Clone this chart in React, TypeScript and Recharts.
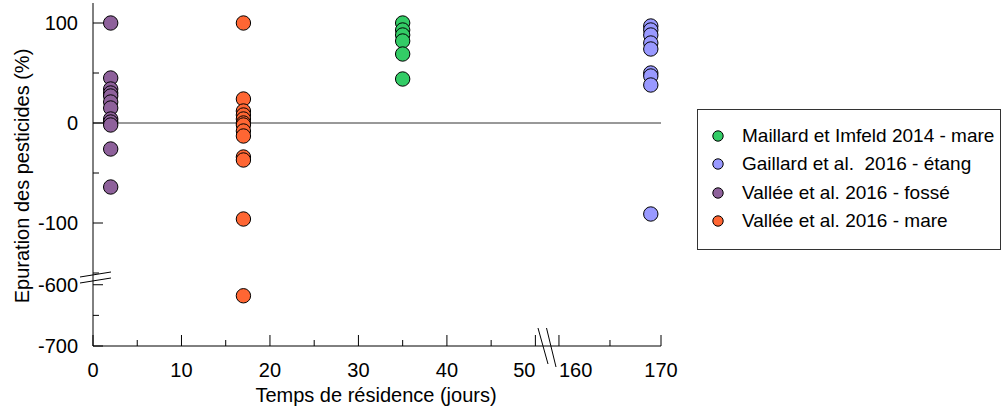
import { Legend, ReferenceLine, Scatter, ScatterChart, XAxis, YAxis } from "recharts";

// series (in legend order)
const seriesNames = [
  "Maillard et Imfeld 2014 - mare",
  "Gaillard et al.  2016 - étang",
  "Vallée et al. 2016 - fossé",
  "Vallée et al. 2016 - mare",
];
const seriesColors = ["#33cc66", "#9999ff", "#8e619b", "#ff6633"];

// temps de résidence (jours) et épuration (%)
const maillardDays = 35;
const maillardValues = [100, 93, 88, 82, 69, 44];
const gaillardDays = 169;
const gaillardValues = [97, 93, 88, 80, 74, 50, 47, 38, -91];
const valleeFosseDays = 2;
const valleeFosseValues = [100, 45, 34, 30, 27, 21, 15, 4, 1, -2, -26, -64];
const valleeMareDays = 17;
const valleeMareValues = [100, 24, 12, 8, 4, 0, -2, -8, -13, -34, -37, -96, -618];

// ticks
const xTicksLeft = [0, 5, 10, 15, 20, 25, 30, 35, 40, 45, 50];
const xTicksRight = [160, 165, 170];
const yTicksUpper = [-150, -100, -50, 0, 50, 100];
const yTicksLower = [-700, -650, -600];

const FONT = "'Liberation Sans', Arial, sans-serif";

const series = [
  { name: seriesNames[0], color: seriesColors[0], points: maillardValues.map((v) => ({ x: maillardDays, y: v })) },
  { name: seriesNames[1], color: seriesColors[1], points: gaillardValues.map((v) => ({ x: gaillardDays, y: v })) },
  { name: seriesNames[2], color: seriesColors[2], points: valleeFosseValues.map((v) => ({ x: valleeFosseDays, y: v })) },
  { name: seriesNames[3], color: seriesColors[3], points: valleeMareValues.map((v) => ({ x: valleeMareDays, y: v })) },
];

// broken axes -> four panels
const panels = [
  { id: "ul", xd: [0, 51.2], yd: [-155, 120], left: 0, top: 3, width: 546, height: 275, yAxis: true, xAxis: false, xTicks: xTicksLeft, yTicks: yTicksUpper, zero: true, legend: false },
  { id: "ur", xd: [158.73, 170], yd: [-155, 120], left: 546, top: 3, width: 115, height: 275, yAxis: false, xAxis: false, xTicks: xTicksRight, yTicks: yTicksUpper, zero: true, legend: true },
  { id: "ll", xd: [0, 51.2], yd: [-700, -589], left: 0, top: 278, width: 546, height: 108, yAxis: true, xAxis: true, xTicks: xTicksLeft, yTicks: yTicksLower, zero: false, legend: false },
  { id: "lr", xd: [158.73, 170], yd: [-700, -589], left: 546, top: 278, width: 140, height: 108, yAxis: false, xAxis: true, xTicks: xTicksRight, yTicks: yTicksLower, zero: false, legend: false },
];

const YTick = ({ x, y, payload }: any) => {
  const v = payload.value;
  const major = v % 100 === 0;
  const ax = x + 15;
  return (
    <g>
      <line x1={ax} x2={ax + (major ? 10 : 6)} y1={y} y2={y} stroke="#000" />
      {major && (
        <text x={x} y={y} dy="0.35em" textAnchor="end" fontSize={20} fontFamily={FONT} fill="#000">
          {v}
        </text>
      )}
    </g>
  );
};

const XTick = ({ x, y, payload }: any) => {
  const v = payload.value;
  const major = v % 10 === 0;
  const ay = y - 17;
  const anchor = v === 50 ? "end" : v === 160 ? "start" : "middle";
  return (
    <g>
      <line x1={x} x2={x} y1={ay} y2={ay - (major ? 11 : 6)} stroke="#000" />
      {major && (
        <text x={x} y={y} dy="0.71em" textAnchor={anchor} fontSize={20} fontFamily={FONT} fill="#000">
          {v}
        </text>
      )}
    </g>
  );
};

const Dot = (props: any) => (
  <circle cx={props.cx} cy={props.cy} r={7.2} fill={props.fill} stroke="#000" strokeWidth={1} />
);

const renderLegend = ({ payload }: any) => {
  const items = [...(payload || [])].sort(
    (a: any, b: any) => seriesNames.indexOf(a.value) - seriesNames.indexOf(b.value)
  );
  return (
    <div
      style={{
        width: 304,
        height: 141,
        boxSizing: "border-box",
        border: "1px solid #333",
        background: "#fff",
        position: "relative",
        fontFamily: FONT,
      }}
    >
      {items.map((entry: any, i: number) => (
        <div
          key={i}
          style={{
            position: "absolute",
            left: 14,
            top: 12 + i * 28.3,
            height: 28,
            display: "flex",
            alignItems: "center",
            whiteSpace: "pre",
            fontSize: 19,
            color: "#000",
          }}
        >
          <svg width={12} height={12}>
            <circle cx={6} cy={6} r={5.2} fill={entry.color} stroke="#000" strokeWidth={1} />
          </svg>
          <span style={{ marginLeft: 18 }}>{entry.value}</span>
        </div>
      ))}
    </div>
  );
};

export default function App() {
  return (
    <div style={{ position: "absolute", left: 0, top: 0, width: 1001, height: 415, background: "#fff", fontFamily: FONT }}>
      <style>{".recharts-surface{overflow:visible}"}</style>
      {panels.map((p) => (
        <div key={p.id} style={{ position: "absolute", left: p.left, top: p.top }}>
          <ScatterChart
            width={p.width}
            height={p.height}
            margin={{ top: 0, right: p.id === "lr" ? 25 : 0, bottom: 0, left: 0 }}
          >
            <XAxis
              type="number"
              dataKey="x"
              domain={p.xd}
              ticks={p.xTicks}
              interval={0}
              hide={!p.xAxis}
              height={40}
              tickLine={false}
              tickSize={0}
              tickMargin={17}
              tick={<XTick />}
              axisLine={{ stroke: "#000" }}
              allowDataOverflow
            />
            <YAxis
              type="number"
              dataKey="y"
              domain={p.yd}
              ticks={p.yTicks}
              interval={0}
              hide={!p.yAxis}
              width={93}
              tickLine={false}
              tickSize={0}
              tickMargin={15}
              tick={<YTick />}
              axisLine={{ stroke: "#000" }}
              allowDataOverflow
            />
            {p.zero && <ReferenceLine y={0} stroke="#333" strokeWidth={1} />}
            {series.map((s) => (
              <Scatter
                key={s.name}
                name={s.name}
                data={s.points.filter((pt) => pt.x >= p.xd[0] && pt.x <= p.xd[1] && pt.y >= p.yd[0] && pt.y <= p.yd[1])}
                fill={s.color}
                stroke="#000"
                strokeWidth={1}
                shape={<Dot />}
                legendType="circle"
                isAnimationActive={false}
              />
            ))}
            {p.legend && (
              <Legend
                layout="vertical"
                align="center"
                verticalAlign="middle"
                wrapperStyle={{ left: 151, top: 106, width: 304, height: 141 }}
                content={renderLegend}
              />
            )}
          </ScatterChart>
        </div>
      ))}
      <svg width={1001} height={415} style={{ position: "absolute", left: 0, top: 0, pointerEvents: "none" }}>
        {/* axis breaks */}
        <line x1={80} y1={277} x2={111} y2={272} stroke="#000" />
        <line x1={80} y1={283} x2={111} y2={278} stroke="#000" />
        <line x1={538} y1={328} x2={548} y2={364} stroke="#000" />
        <line x1={546.5} y1={328} x2={556} y2={367} stroke="#000" />
        <text x={376} y={395} dy="0.35em" textAnchor="middle" fontSize={20} fontFamily={FONT} fill="#000">
          Temps de résidence (jours)
        </text>
        <text
          x={22}
          y={176}
          dy="0.35em"
          textAnchor="middle"
          fontSize={20}
          fontFamily={FONT}
          fill="#000"
          transform="rotate(-90 22 176)"
        >
          Epuration des pesticides (%)
        </text>
      </svg>
    </div>
  );
}
